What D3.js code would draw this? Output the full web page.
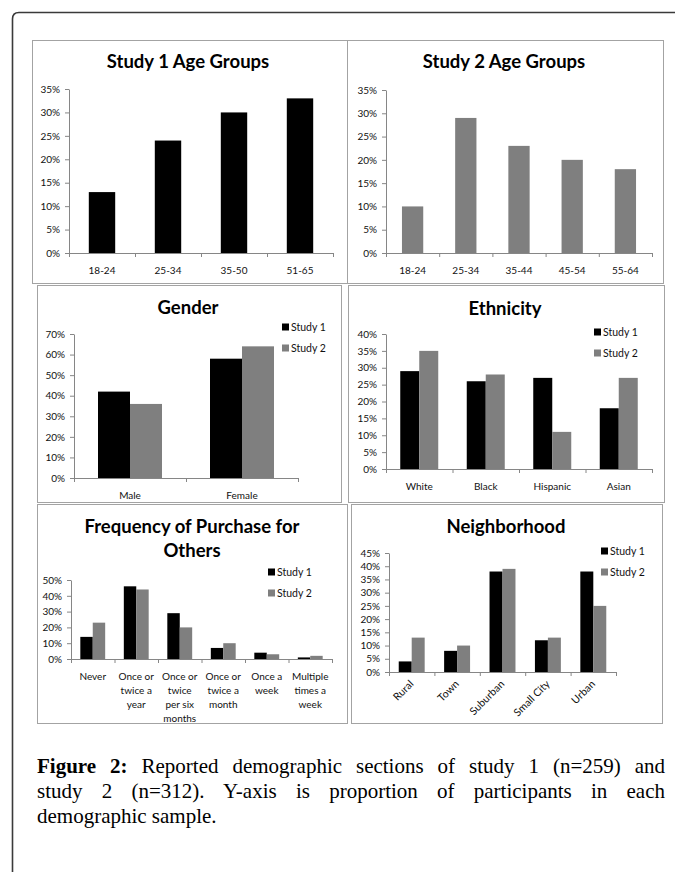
<!DOCTYPE html>
<html>
<head>
<meta charset="utf-8">
<script src="https://cdn.jsdelivr.net/npm/d3@7"></script>
<style>
  body { margin: 0; background: #fff; }
  #wrap { position: relative; width: 675px; height: 872px; overflow: hidden; }
  .caption { position: absolute; left: 37px; width: 628px; font-family: "Liberation Serif", serif; font-size: 21px; line-height: 24px; color: #000; white-space: nowrap; }
  .caption.just { text-align: justify; text-align-last: justify; white-space: normal; }
</style>
</head>
<body>
<div id="wrap">
  <div id="chart"></div>
  <div class="caption just" style="top:754px"><b>Figure 2:</b> Reported demographic sections of study 1 (n=259) and</div>
  <div class="caption just" style="top:779px">study 2 (n=312). Y-axis is proportion of participants in each</div>
  <div class="caption" style="top:804px">demographic sample.</div>
</div>
<script>
// values (percent of participants)
const seriesNames = ['Study 1', 'Study 2'];

const age1Categories = ['18-24', '25-34', '35-50', '51-65'];
const age1Values = [13, 24, 30, 33];

const age2Categories = ['18-24', '25-34', '35-44', '45-54', '55-64'];
const age2Values = [10, 29, 23, 20, 18];

const genderCategories = ['Male', 'Female'];
const genderStudy1 = [42, 58];
const genderStudy2 = [36, 64];

const ethnicityCategories = ['White', 'Black', 'Hispanic', 'Asian'];
const ethnicityStudy1 = [29, 26, 27, 18];
const ethnicityStudy2 = [35, 28, 11, 27];

const purchaseCategories = [
    ['Never'],
    ['Once or', 'twice a', 'year'],
    ['Once or', 'twice', 'per six', 'months'],
    ['Once or', 'twice a', 'month'],
    ['Once a', 'week'],
    ['Multiple', 'times a', 'week']
];
const purchaseStudy1 = [14, 46, 29, 7, 4, 1];
const purchaseStudy2 = [23, 44, 20, 10, 3, 2];

const neighborhoodCategories = ['Rural', 'Town', 'Suburban', 'Small City', 'Urban'];
const neighborhoodStudy1 = [4, 8, 38, 12, 38];
const neighborhoodStudy2 = [13, 10, 39, 13, 25];

const ticks35 = [0, 5, 10, 15, 20, 25, 30, 35];
const ticks70 = [0, 10, 20, 30, 40, 50, 60, 70];
const ticks40 = [0, 5, 10, 15, 20, 25, 30, 35, 40];
const ticks50 = [0, 10, 20, 30, 40, 50];
const ticks45 = [0, 5, 10, 15, 20, 25, 30, 35, 40, 45];

const colors = { 'Study 1': '#000000', 'Study 2': '#7f7f7f' };
const axisColor = '#868686';
const font = 'Lato, "Open Sans", sans-serif';

const svg = d3.select('#chart').append('svg')
    .attr('width', 675)
    .attr('height', 872);

// outer frame (runs off the page right and bottom)
svg.append('path')
    .attr('d', 'M12.5,872 L12.5,19 Q12.5,12.5 19,12.5 L675,12.5')
    .attr('fill', 'none')
    .attr('stroke', '#3a3a3a')
    .attr('stroke-width', 1.6);

function drawPanel(p) {
    const g = svg.append('g');

    g.append('rect')
        .attr('x', p.box[0] + 0.5)
        .attr('y', p.box[1] + 0.5)
        .attr('width', p.box[2] - p.box[0])
        .attr('height', p.box[3] - p.box[1])
        .attr('fill', '#fff')
        .attr('stroke', '#a3a3a3');

    p.title.forEach((t, i) => {
        g.append('text')
            .attr('x', p.titleX)
            .attr('y', p.titleY + i * 24)
            .attr('text-anchor', 'middle')
            .style('font-family', font)
            .style('font-size', '18.5px')
            .style('font-weight', 'bold')
            .text(t);
    });

    const n = p.categories.length;
    const x0 = d3.scaleBand()
        .domain(d3.range(n))
        .range([p.left, p.right]);
    const x1 = d3.scaleBand()
        .domain(p.series.map(s => s.name))
        .range([0, x0.bandwidth()])
        .paddingOuter(0.75);
    const y = d3.scaleLinear()
        .domain([0, p.ticks[p.ticks.length - 1]])
        .range([p.bottom, p.top]);

    // bars
    p.series.forEach(s => {
        g.selectAll(null)
            .data(s.values)
            .join('rect')
            .attr('x', (d, i) => x0(i) + x1(s.name))
            .attr('y', d => y(d))
            .attr('width', x1.bandwidth())
            .attr('height', d => y(0) - y(d))
            .attr('fill', colors[s.name]);
    });

    // y axis
    const yAxis = g.append('g')
        .attr('transform', `translate(${p.left},0)`)
        .call(d3.axisLeft(y)
            .tickValues(p.ticks)
            .tickFormat(d => d + '%')
            .tickSize(4)
            .tickSizeOuter(0)
            .tickPadding(5));

    // x axis with ticks on category edges
    const edge = d3.scaleLinear().domain([0, n]).range([p.left, p.right]);
    const xAxis = g.append('g')
        .attr('transform', `translate(0,${p.bottom})`)
        .call(d3.axisBottom(edge)
            .tickValues(d3.range(n + 1))
            .tickFormat('')
            .tickSize(4)
            .tickSizeOuter(0));

    [yAxis, xAxis].forEach(a => {
        a.select('.domain').attr('stroke', axisColor);
        a.selectAll('.tick line').attr('stroke', axisColor);
        a.selectAll('text')
            .attr('fill', '#111')
            .style('font-family', font)
            .style('font-size', '10px');
    });

    // category labels
    const labels = g.selectAll('.cat-label')
        .data(p.categories)
        .join('text')
        .attr('class', 'cat-label')
        .style('font-family', font)
        .style('font-size', p.rotate ? '10.5px' : '10px')
        .attr('fill', '#111');

    if (p.rotate) {
        labels
            .attr('text-anchor', 'end')
            .attr('transform', (d, i) =>
                `translate(${x0(i) + x0.bandwidth() / 2},${p.bottom + 10}) rotate(-45)`)
            .attr('dy', '0.35em')
            .text(d => d);
    } else {
        labels
            .attr('text-anchor', 'middle')
            .each(function(d, i) {
                const lines = Array.isArray(d) ? d : [d];
                d3.select(this).selectAll('tspan')
                    .data(lines)
                    .join('tspan')
                    .attr('x', x0(i) + x0.bandwidth() / 2)
                    .attr('y', (l, j) => p.bottom + 17 + j * 14.3)
                    .attr('dy', '0.35em')
                    .text(l => l);
            });
    }

    // legend
    if (p.legend) {
        p.series.forEach((s, i) => {
            const ly = p.legend[1] + i * 21;
            g.append('rect')
                .attr('x', p.legend[0])
                .attr('y', ly - 3.5)
                .attr('width', 7)
                .attr('height', 7)
                .attr('fill', colors[s.name]);
            g.append('text')
                .attr('x', p.legend[0] + 9)
                .attr('y', ly)
                .attr('dy', '0.35em')
                .style('font-family', font)
                .style('font-size', '10.5px')
                .attr('fill', '#111')
                .text(s.name);
        });
    }
}

drawPanel({
    box: [32, 40, 347, 283], title: ['Study 1 Age Groups'], titleX: 188, titleY: 68,
    left: 69, right: 333, top: 89, bottom: 253, ticks: ticks35,
    categories: age1Categories,
    series: [{ name: seriesNames[0], values: age1Values }]
});

drawPanel({
    box: [347, 40, 663, 283], title: ['Study 2 Age Groups'], titleX: 504, titleY: 68,
    left: 386, right: 652, top: 90, bottom: 253, ticks: ticks35,
    categories: age2Categories,
    series: [{ name: seriesNames[1], values: age2Values }]
});

drawPanel({
    box: [37, 285, 341, 502], title: ['Gender'], titleX: 188, titleY: 314,
    left: 74, right: 298, top: 334, bottom: 478, ticks: ticks70,
    categories: genderCategories, legend: [282, 327],
    series: [{ name: seriesNames[0], values: genderStudy1 }, { name: seriesNames[1], values: genderStudy2 }]
});

drawPanel({
    box: [348, 285, 664, 502], title: ['Ethnicity'], titleX: 505, titleY: 315,
    left: 386, right: 652, top: 334, bottom: 469, ticks: ticks40,
    categories: ethnicityCategories, legend: [594, 332],
    series: [{ name: seriesNames[0], values: ethnicityStudy1 }, { name: seriesNames[1], values: ethnicityStudy2 }]
});

drawPanel({
    box: [37, 504, 347, 723], title: ['Frequency of Purchase for', 'Others'], titleX: 192, titleY: 533,
    left: 71, right: 332, top: 580, bottom: 659, ticks: ticks50,
    categories: purchaseCategories, legend: [268, 572],
    series: [{ name: seriesNames[0], values: purchaseStudy1 }, { name: seriesNames[1], values: purchaseStudy2 }]
});

drawPanel({
    box: [351, 504, 662, 723], title: ['Neighborhood'], titleX: 506, titleY: 533,
    left: 389, right: 616, top: 553, bottom: 672, ticks: ticks45,
    categories: neighborhoodCategories, legend: [601, 551], rotate: true,
    series: [{ name: seriesNames[0], values: neighborhoodStudy1 }, { name: seriesNames[1], values: neighborhoodStudy2 }]
});
</script>
</body>
</html>
